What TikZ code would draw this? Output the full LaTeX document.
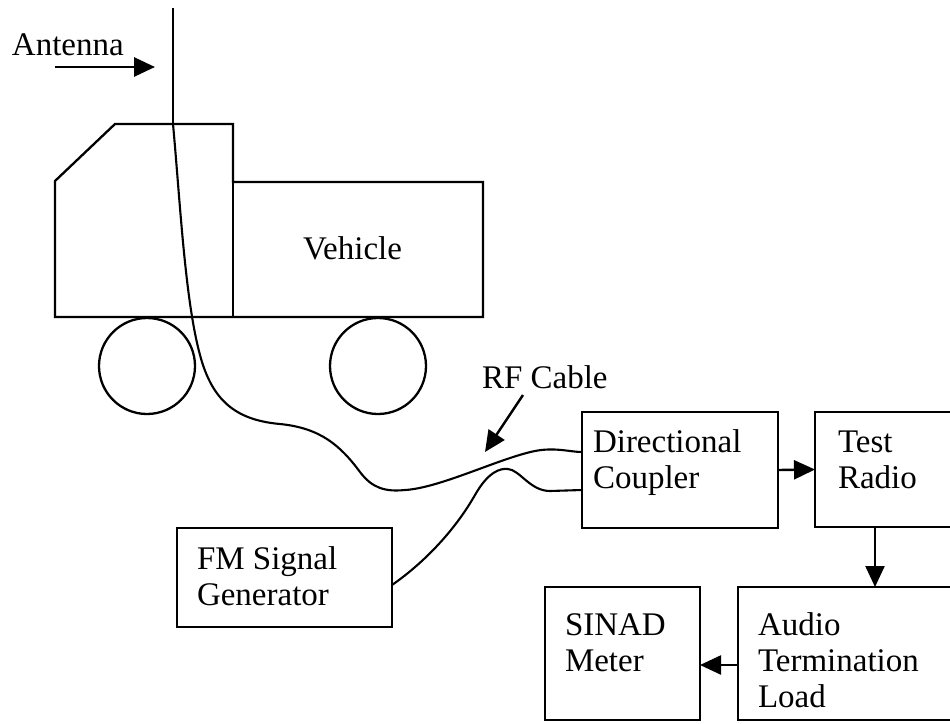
\documentclass[tikz,border=0pt]{standalone}
\usepackage{fontspec}
\setmainfont{Liberation Serif}
\usetikzlibrary{arrows.meta}

\begin{document}
\begin{tikzpicture}[x=1pt, y=-1pt,
  every node/.style={font=\fontsize{33}{36}\selectfont, inner sep=0pt, outer sep=0pt},
  unit/.style={draw, line width=2.3pt, rectangle, anchor=north west},
  label/.style={anchor=base west, align=left},
  body/.style={line width=2.3pt, line join=miter},
  cable/.style={line width=2.1pt, line cap=round},
  mast/.style={line width=1.6pt},
  flow/.style={line width=2.4pt, -{Triangle[length=21pt, width=19pt]}},
]
\useasboundingbox (0,0) rectangle (950,723);
\clip (0,0) rectangle (950,723);

% ---- vehicle: cab, cargo body and wheels ----
\draw[body] (55,317) -- (55,181) -- (115,124) -- (233,124) -- (233,182)
  -- (483,182) -- (483,317) -- cycle;
\draw[body] (233,182) -- (233,317);
\draw[body] (147,366) circle[radius=48];
\draw[body] (378,366) circle[radius=48];
\node[label] (vehlabel) at (303,259) {Vehicle};

% ---- equipment boxes ----
\node[unit, minimum width=196, minimum height=116] (coupler) at (582,412) {};
\node[unit, minimum width=150, minimum height=115] (radio)   at (815,412) {};
\node[unit, minimum width=227, minimum height=133] (audio)   at (738,587) {};
\node[unit, minimum width=155, minimum height=133] (sinad)   at (545,587) {};
\node[unit, minimum width=215, minimum height=99]  (fmgen)   at (177,528) {};

% multi-line labels are placed by the baseline of their last line
\node[label] (couplertxt) at (593,488) {Directional\\Coupler};
\node[label] (radiotxt)   at (838,488) {Test\\Radio};
\node[label] (audiotxt)   at (758,707) {Audio\\Termination\\Load};
\node[label] (sinadtxt)   at (565,671) {SINAD\\Meter};
\node[label] (fmtxt)      at (197,605) {FM Signal\\Generator};

% ---- antenna mast and RF cable to the coupler ----
\coordinate (anttop)  at (173,8);
\coordinate (antbase) at (173,124);
\coordinate (rfin)    at (coupler.west |- 0,452);
\draw[mast] (anttop) -- (antbase);
\draw[cable] (antbase)
  .. controls (180,200) and (185,300) .. (200,355)
  .. controls (212,400) and (235,420) .. (280,424)
  .. controls (320,428) and (340,445) .. (360,472)
  .. controls (372,488) and (385,492) .. (405,490)
  .. controls (440,488) and (500,458) .. (535,451)
  .. controls (555,447) and (570,452) .. (rfin);

% ---- signal generator cable to the coupler ----
\coordinate (fmout) at (fmgen.east |- 0,585);
\coordinate (fmin)  at (coupler.west |- 0,490);
\draw[cable] (fmout)
  .. controls (425,562) and (455,530) .. (475,495)
  .. controls (488,472) and (500,468) .. (508,469)
  .. controls (520,470) and (530,491) .. (550,491)
  -- (fmin);

% ---- signal flow ----
\draw[flow] (coupler.east) -- (radio.west);
\draw[flow] (radio.south -| 875,0) -- (audio.north -| 875,0);
\draw[flow] (audio.west |- 0,665) -- (sinad.east |- 0,665);

% ---- callouts ----
\node[label] (antlabel) at (12,55) {Antenna};
\coordinate (anttail) at (55,67);
\coordinate (anttip)  at (155,67);
\draw[flow, line width=2.8pt] (anttail) -- (anttip);

\node[label] (rflabel) at (482,388) {RF Cable};
\coordinate (rftail) at (523,395);
\coordinate (rftip)  at (485,452);
\draw[flow] (rftail) -- (rftip);
\end{tikzpicture}
\end{document}
